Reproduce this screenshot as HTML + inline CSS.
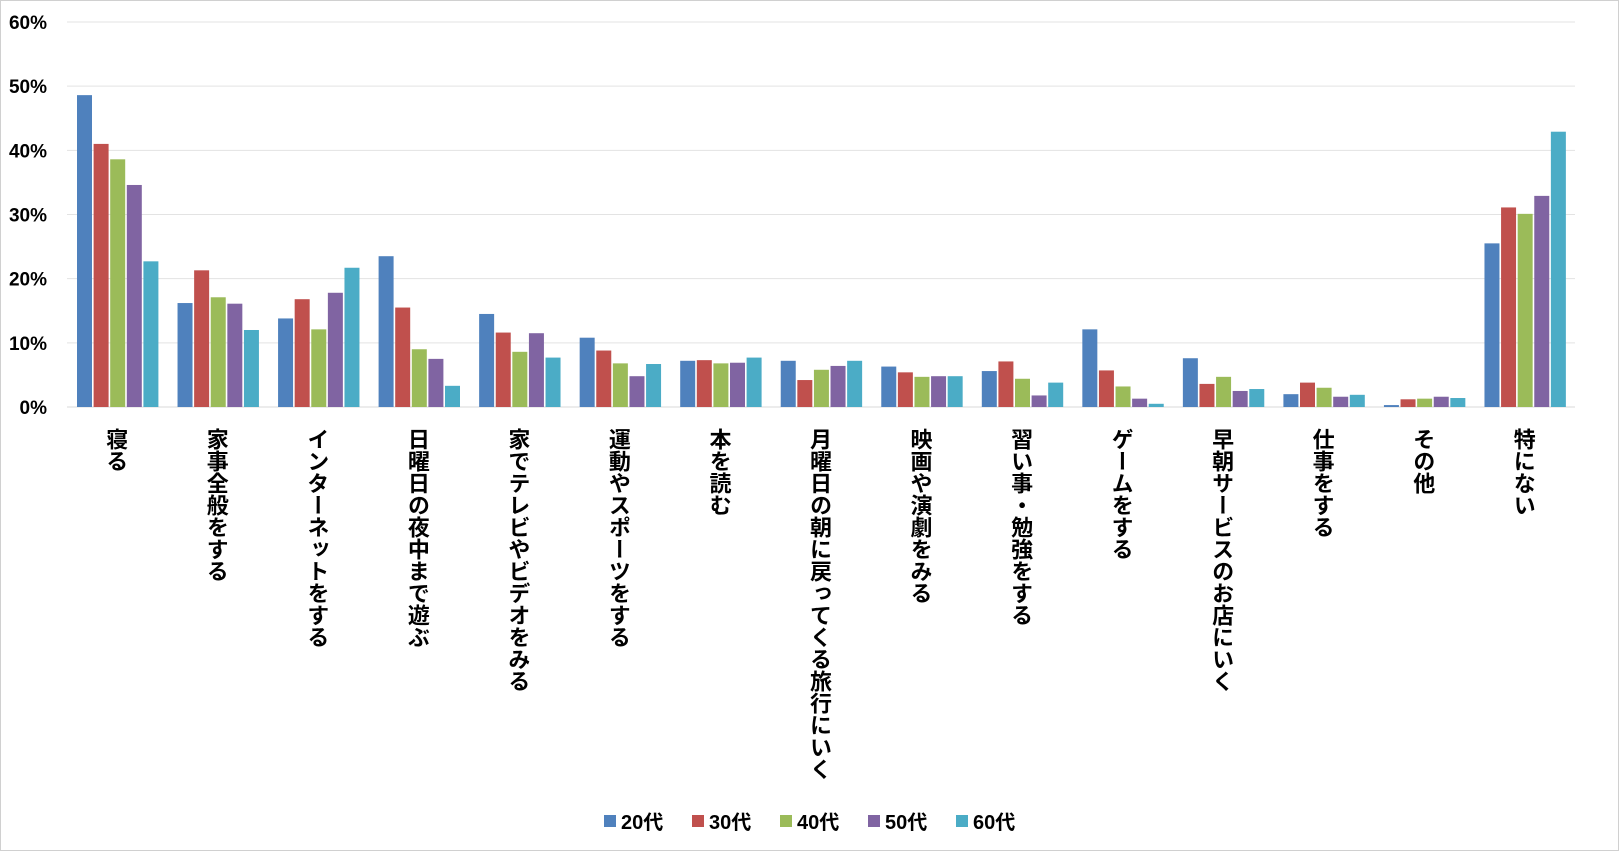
<!DOCTYPE html>
<html><head><meta charset="utf-8">
<style>
html,body{margin:0;padding:0;background:#fff;}
svg{display:block;}
text{font-family:"Liberation Sans","Noto Sans CJK JP",sans-serif;font-weight:bold;fill:#000;}
.vl{writing-mode:vertical-rl;font-family:"Noto Sans CJK JP",sans-serif;font-size:22px;font-weight:bold;}
</style></head>
<body>
<svg id="c" width="1620" height="852" xmlns="http://www.w3.org/2000/svg">
<rect x="0.5" y="0.5" width="1618" height="850" fill="#fff" stroke="#d0d0d0"/>
</svg>
<script>
const svg=document.getElementById('c');
const NS='http://www.w3.org/2000/svg';
function el(t,a,txt){const e=document.createElementNS(NS,t);for(const k in a)e.setAttribute(k,a[k]);if(txt!==undefined)e.textContent=txt;svg.appendChild(e);return e;}
const L=67,R=1575,Y0=407,S=6.417;
for(let i=0;i<=6;i++){const y=Y0-i*10*S;
 el('line',{x1:L,x2:R,y1:y,y2:y,stroke:i==0?'#d9d9d9':'#e3e3e3','stroke-width':1});
 el('text',{x:47,y:y+7,'text-anchor':'end','font-size':19},(i*10)+'%');}
const cats=['寝る','家事全般をする','インターネットをする','日曜日の夜中まで遊ぶ','家でテレビやビデオをみる','運動やスポーツをする','本を読む','月曜日の朝に戻ってくる旅行にいく','映画や演劇をみる','習い事・勉強をする','ゲームをする','早朝サービスのお店にいく','仕事をする','その他','特にない'];
const d=[[48.6,41,38.6,34.6,22.7],[16.2,21.3,17.1,16.1,12],[13.8,16.8,12.1,17.8,21.7],[23.5,15.5,9,7.5,3.3],[14.5,11.6,8.6,11.5,7.7],[10.8,8.8,6.8,4.8,6.7],[7.2,7.3,6.8,6.9,7.7],[7.2,4.2,5.8,6.4,7.2],[6.3,5.4,4.7,4.8,4.8],[5.6,7.1,4.4,1.8,3.8],[12.1,5.7,3.2,1.3,0.5],[7.6,3.6,4.7,2.5,2.8],[2.0,3.8,3.0,1.6,1.9],[0.3,1.2,1.3,1.6,1.4],[25.5,31.1,30.1,32.9,42.9]];
const col=['#4F81BD','#C0504D','#9BBB59','#8064A2','#4BACC6'];
const cw=(R-L)/15;
cats.forEach((c,i)=>{
 d[i].forEach((v,j)=>{const h=v*S;el('rect',{x:L+i*cw+10+j*16.6,y:Y0-h,width:15,height:h,fill:col[j]});});
 el('text',{class:'vl',x:L+i*cw+cw/2,y:428},c);
});
const lg=['20代','30代','40代','50代','60代'];
let lx=604;
lg.forEach((t,j)=>{el('rect',{x:lx,y:815,width:12,height:12,fill:col[j]});
 el('text',{x:lx+17,y:829,'font-size':20},t);lx+=88;});
</script>
</body></html>
